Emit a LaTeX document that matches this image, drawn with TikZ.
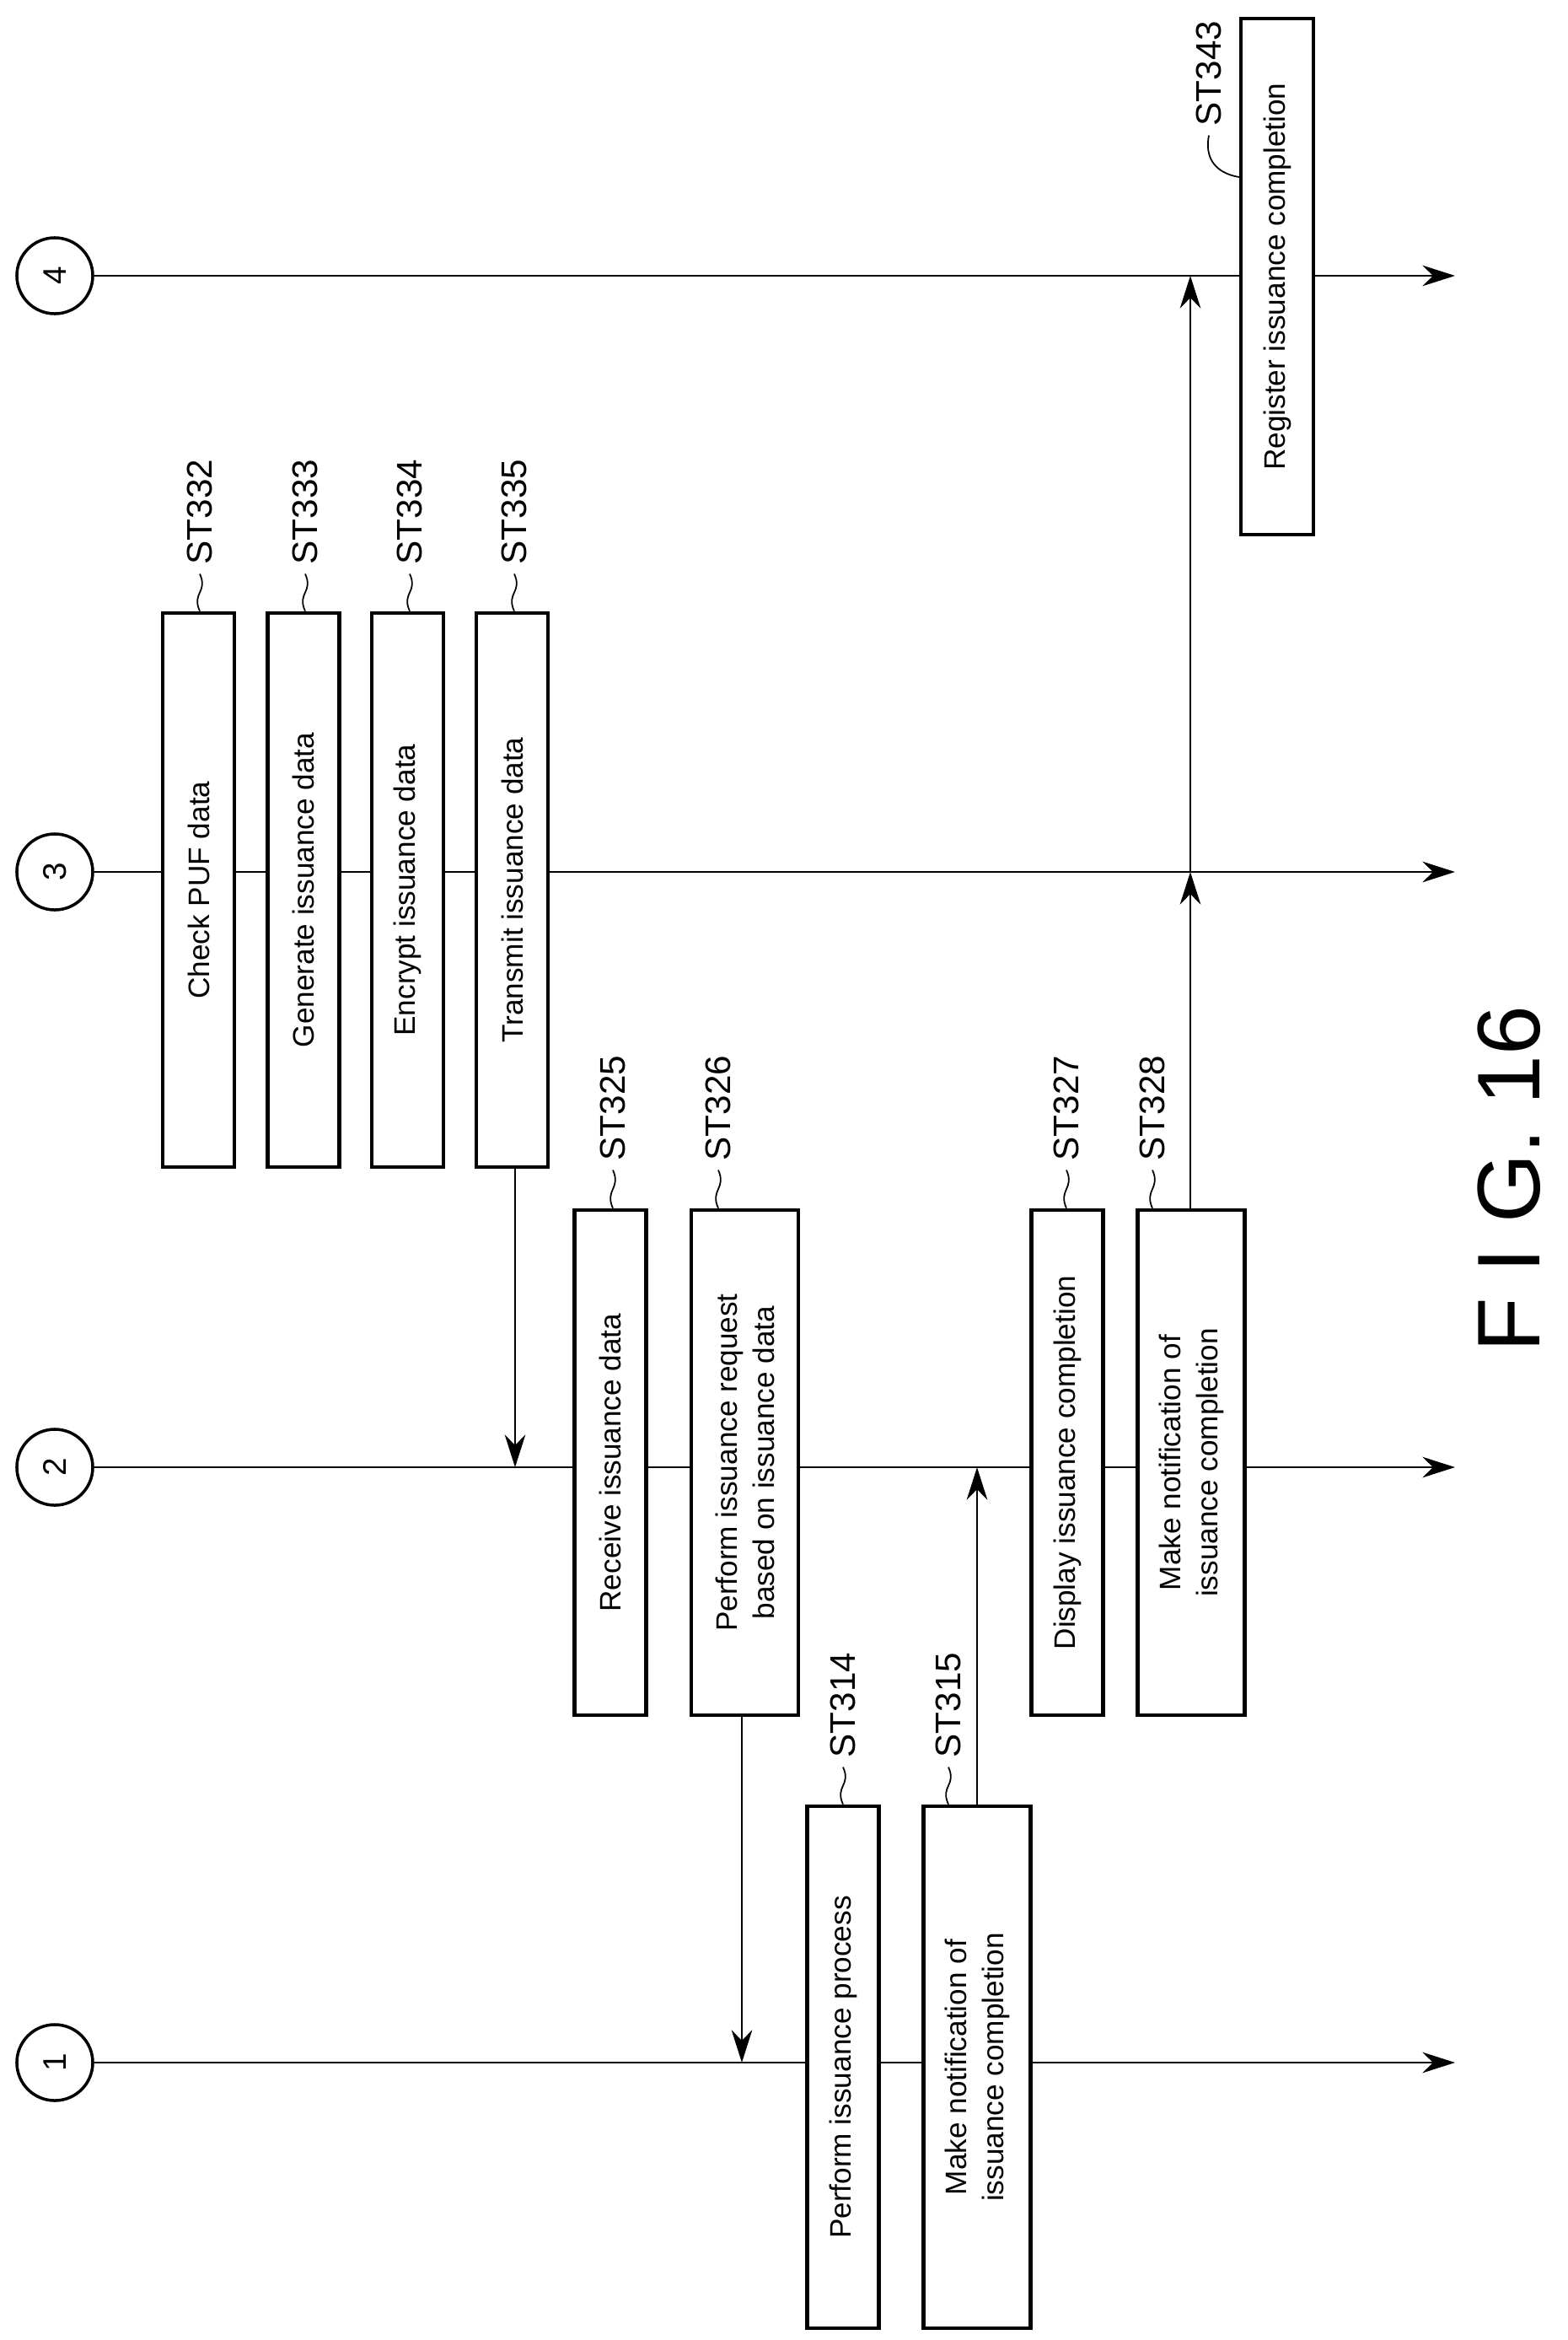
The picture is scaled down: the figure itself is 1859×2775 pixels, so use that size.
\documentclass[tikz,border=0pt]{standalone}
\usepackage{fontspec}
\setmainfont{Liberation Sans}
\usetikzlibrary{arrows.meta}
\tikzset{
  stepbox/.style={draw, fill=white, line width=1.2pt, rotate=90, inner sep=0pt, align=center, font=\fontsize{10}{12.5}\selectfont},
  stlabel/.style={rotate=90, anchor=west, inner sep=0pt, font=\fontsize{12}{14}\selectfont},
  unit/.style={draw, circle, line width=1pt, minimum size=0.9cm, inner sep=0pt, font=\fontsize{11}{13}\selectfont},
  life/.style={line width=0.7pt, -{Stealth[length=11pt,width=7pt]}},
  arrow/.style={line width=0.7pt, -{Stealth[length=11pt,width=7pt]}},
  lead/.style={line width=0.5pt}
}
\begin{document}
\begin{tikzpicture}[x=0.01cm, y=-0.01cm]
\useasboundingbox (0,0) rectangle (1859,2775);

% lifelines
\foreach \n/\y in {1/2446, 2/1740, 3/1034, 4/327} {
  \node (u\n) [unit, rotate=90] at (65,\y) {\n};
  \draw [life] (u\n) -- (1726,\y);
}

% steps on 3
\node (s332) [stepbox, minimum width=6.57cm, minimum height=0.85cm] at (235.5,1055.5) {Check PUF data};
\node (s333) [stepbox, minimum width=6.57cm, minimum height=0.85cm] at (360,1055.5) {Generate issuance data};
\node (s334) [stepbox, minimum width=6.57cm, minimum height=0.85cm] at (483.5,1055.5) {Encrypt issuance data};
\node (s335) [stepbox, minimum width=6.57cm, minimum height=0.85cm] at (607.5,1055.5) {Transmit issuance data};
% steps on 2
\node (s325) [stepbox, minimum width=5.99cm, minimum height=0.85cm] at (724,1734.5) {Receive issuance data};
\node (s326) [stepbox, minimum width=5.99cm, minimum height=1.27cm] at (883.5,1734.5) {Perform issuance request\\based on issuance data};
\node (s327) [stepbox, minimum width=5.99cm, minimum height=0.85cm] at (1266,1734.5) {Display issuance completion};
\node (s328) [stepbox, minimum width=5.99cm, minimum height=1.27cm] at (1413,1734.5) {Make notification of\\issuance completion};
% steps on 1
\node (s314) [stepbox, minimum width=6.19cm, minimum height=0.85cm] at (1000,2451.5) {Perform issuance process};
\node (s315) [stepbox, minimum width=6.19cm, minimum height=1.27cm] at (1159,2451.5) {Make notification of\\issuance completion};
% step on 4
\node (s343) [stepbox, minimum width=6.12cm, minimum height=0.86cm] at (1515,328) {Register issuance completion};

% step labels
\node (l332) [stlabel] at (237,670) {ST332};
\node (l333) [stlabel] at (362,670) {ST333};
\node (l334) [stlabel] at (486,670) {ST334};
\node (l335) [stlabel] at (610,670) {ST335};
\node (l325) [stlabel] at (727,1377) {ST325};
\node (l326) [stlabel] at (852,1377) {ST326};
\node (l327) [stlabel] at (1265,1377) {ST327};
\node (l328) [stlabel] at (1367,1377) {ST328};
\node (l314) [stlabel] at (1000,2085) {ST314};
\node (l315) [stlabel] at (1125,2085) {ST315};
\node (l343) [stlabel] at (1434,150) {ST343};

\foreach \s in {332,333,334,335,325,326,327,328,314,315} {
  \draw [lead] (s\s.east -| l\s.west) .. controls +(-10,-22) and +(10,22) .. ([yshift=-3pt]l\s.west);
}
\draw [lead] (s343.north |- 0,210) .. controls +(-30,-5) and +(-5,25) .. ([yshift=-3pt]l343.west);

% messages
\coordinate (m335) at (611,1384);
\draw [arrow] (m335) -- (u2 -| m335);
\coordinate (m326) at (880,2036);
\draw [arrow] (m326) -- (u1 -| m326);
\coordinate (m315) at (1159,2142);
\draw [arrow] (m315) -- (u2 -| m315);
\coordinate (m328) at (1412,1437);
\draw [arrow] (m328) -- (u3 -| m328);
\draw [arrow] (u3 -| m328) -- (u4 -| m328);

\node (fig) [rotate=90, font=\fontsize{30}{36}\selectfont] at (1790,1398) {F I G. 16};
\end{tikzpicture}
\end{document}
